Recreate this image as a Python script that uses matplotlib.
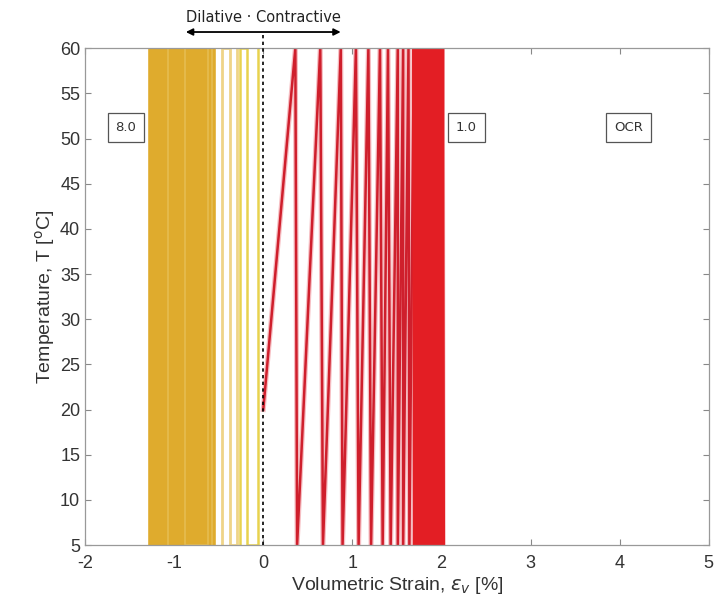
import matplotlib
matplotlib.use("Agg")
import matplotlib.pyplot as plt

# Temperature turning points of the heating/cooling cycles
T_START, T_HOT, T_COLD = 20, 60, 5

# OCR = 1.0: volumetric strain [%] at each turning point (20 °C, then 60/5 °C)
strain_ocr1 = [0.00, 0.36, 0.38, 0.64, 0.67, 0.87, 0.89, 1.04, 1.07, 1.18, 1.21,
               1.31, 1.34, 1.40, 1.43, 1.51, 1.51, 1.57, 1.57, 1.63, 1.64, 1.69,
               1.70, 1.72, 1.73, 1.75, 1.76, 1.78, 1.79, 1.81, 1.82, 1.84, 1.85,
               1.87, 1.88, 1.90, 1.91, 1.93, 1.94, 1.96, 1.97, 1.99, 2.00, 2.01,
               2.02]

# Dilative side: strain [%] of each near-vertical heating/cooling trace
strain_ocr8 = [-1.27, -1.25, -1.23, -1.21, -1.19, -1.17, -1.15, -1.13, -1.11,
               -1.09, -1.07, -1.05, -1.03, -1.01, -0.99, -0.97, -0.95, -0.93,
               -0.91, -0.89, -0.87, -0.85, -0.83, -0.81, -0.79, -0.77, -0.75,
               -0.73, -0.71, -0.69, -0.67, -0.65, -0.63, -0.61, -0.59, -0.57,
               -0.55]
strain_ocr6 = [-1.07, -0.88, -0.62, -0.57]
strain_ocr4 = [-0.46, -0.37, -0.29]
strain_ocr2 = [-0.26, -0.18, -0.06]

box_labels = ["8.0", "1.0", "OCR"]
box_x = [-1.54, 2.28, 4.10]
box_y = 51.2

x_ticks = [-2, -1, 0, 1, 2, 3, 4, 5]
y_ticks = [5, 10, 15, 20, 25, 30, 35, 40, 45, 50, 55, 60]


def zigzag(strains):
    temps = [T_START]
    for i in range(1, len(strains)):
        temps.append(T_HOT if i % 2 == 1 else T_COLD)
    return strains, temps


def vertical_traces(strains):
    xs, ts = [], []
    for i, s in enumerate(strains):
        pair = [T_COLD, T_HOT] if i % 2 == 0 else [T_HOT, T_COLD]
        xs += [s, s]
        ts += pair
    return xs, ts


plt.rcParams["font.family"] = ["Liberation Sans", "DejaVu Sans"]
plt.rcParams["axes.unicode_minus"] = False

fig = plt.figure(figsize=(7.21, 6.11), dpi=100)
ax = fig.add_axes([0.118, 0.108, 0.865, 0.813])

dilative = [
    (strain_ocr8, "#DFAB2D", 2.6),
    (strain_ocr6, "#E6BC50", 1.2),
    (strain_ocr4, "#EFD488", 2.0),
    (strain_ocr2, "#E8D24E", 1.8),
]
for strains, color, lw in dilative:
    xs, ts = vertical_traces(strains)
    ax.plot(xs, ts, color=color, lw=lw, zorder=2)

# OCR = 1.0 path with a soft halo under the line
xs, ts = zigzag(strain_ocr1)
ax.plot(xs, ts, color="#F08890", lw=3.6, solid_joinstyle="miter",
        alpha=0.55, zorder=2)
ax.plot(xs, ts, color="#CF1F2C", lw=1.8, solid_joinstyle="miter", zorder=2)
# dense late cycles in brighter red
ax.plot(xs[21:], ts[21:], color="#E31E24", lw=2.6, zorder=2)

# Boundary between dilative and contractive response
ax.plot([0, 0], [5, 61.8], color="black", lw=1.2, ls=(0, (2, 2)),
        clip_on=False, zorder=3)
ax.annotate("", xy=(-0.9, 61.8), xytext=(0.9, 61.8),
            arrowprops=dict(arrowstyle="<|-|>", color="black", lw=1.3,
                            mutation_scale=10),
            annotation_clip=False)
ax.text(0, 63.4, "Dilative · Contractive", ha="center", va="center",
        fontsize=10.5, family="DejaVu Sans", color="#222222")

for lab, bx in zip(box_labels, box_x):
    ax.text(bx, box_y, lab, ha="center", va="center", fontsize=9.5,
            family="DejaVu Sans", color="#333333",
            bbox=dict(boxstyle="square,pad=0.6", fc="white", ec="#555555",
                      lw=0.9), zorder=4)

ax.set_xlim(-2, 5)
ax.set_ylim(5, 60)
ax.set_xticks(x_ticks)
ax.set_yticks(y_ticks)
ax.tick_params(direction="in", length=4, width=0.8, colors="#888888",
               labelcolor="#333333", labelsize=13, top=True, right=True)
ax.tick_params(axis="x", pad=7)
for sp in ax.spines.values():
    sp.set_color("#999999")
    sp.set_linewidth(0.9)

ax.set_xlabel("Volumetric Strain, $\\epsilon_v$ [%]", fontsize=14,
              color="#333333", labelpad=2)
ax.set_ylabel("Temperature, T [$^{\\mathrm{o}}$C]", fontsize=14,
              color="#333333", labelpad=2)

fig.savefig("out.png", dpi=100)
